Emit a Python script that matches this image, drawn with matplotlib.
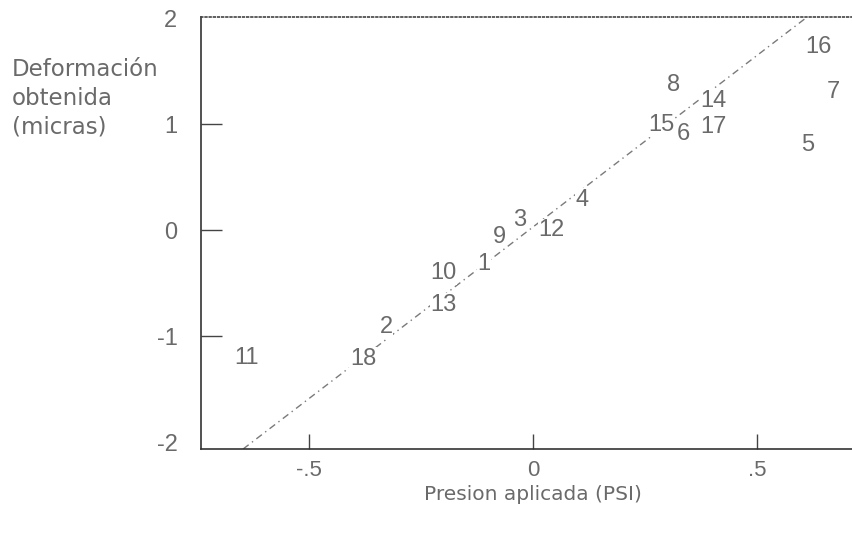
import matplotlib
matplotlib.use("Agg")
import matplotlib.pyplot as plt

# Data (Presion aplicada vs Deformación obtenida)
point_ids = ["11", "18", "2", "13", "10", "1", "9", "3", "12", "4",
             "15", "6", "8", "14", "17", "16", "7", "5"]
presion = [-0.64, -0.379, -0.328, -0.20, -0.20, -0.109, -0.074, -0.031, 0.042, 0.109,
           0.286, 0.335, 0.3125, 0.402, 0.402, 0.636, 0.67, 0.612]
deformacion = [-1.20, -1.21, -0.91, -0.70, -0.40, -0.32, -0.06, 0.10, 0.0, 0.29,
               0.99, 0.91, 1.37, 1.22, 0.97, 1.73, 1.30, 0.80]

# Fitted line end points
fit_x = [-0.647, 0.618]
fit_y = [-2.06, 2.03]

xticks = [-0.5, 0, 0.5]
xtick_labels = ["-.5", "0", ".5"]
yticks = [-2, -1, 0, 1, 2]
ytick_labels = ["-2", "-1", "0", "1", "2"]

TXT = "#6a6a6a"
NUMFONT = ["Liberation Sans Narrow", "Liberation Sans", "DejaVu Sans"]
LABFONT = ["DejaVu Sans"]

fig = plt.figure(figsize=(8.53, 5.33), dpi=100)
ax = fig.add_axes([201/853, 1 - 449/533, 1 - 201/853 + 0.01, (449 - 17)/533])
ax.set_xlim(-0.741, 0.714 + 0.01 * 853 / 448)
ax.set_ylim(-2.06, 2.01)

ax.plot(fit_x, fit_y, color="#7a7a7a", lw=1.0, linestyle=(0, (5, 3, 1, 3)), zorder=1)

for lab, x, y in zip(point_ids, presion, deformacion):
    ax.text(x, y, lab, ha="center", va="center", fontsize=17, color=TXT,
            family=NUMFONT, zorder=3,
            bbox=dict(facecolor="white", edgecolor="none", pad=0.5))

ax.spines["right"].set_visible(False)
ax.spines["top"].set_linestyle((0, (1, 1.5)))
ax.spines["top"].set_color("#444444")
ax.spines["top"].set_linewidth(1.2)
ax.spines["left"].set_color("#333333")
ax.spines["bottom"].set_color("#333333")
ax.spines["left"].set_linewidth(1.2)
ax.spines["bottom"].set_linewidth(1.2)

ax.set_xticks(xticks)
ax.set_xticklabels(xtick_labels, family=NUMFONT, fontsize=16, color=TXT)
ax.set_yticks(yticks)
ax.set_yticklabels(ytick_labels, family=NUMFONT, fontsize=17, color=TXT)
ax.tick_params(axis="x", direction="in", length=11, width=1, color="#444444", pad=8)
ax.tick_params(axis="y", direction="in", length=15, width=1, color="#444444", pad=17)
# hide tick marks at the ends of the y range
for t in ax.yaxis.get_major_ticks():
    if t.get_loc() in (-2, 2):
        t.tick1line.set_visible(False)

fig.text(12/853, 1 - 58/533, "Deformación\nobtenida\n(micras)", ha="left", va="top",
         fontsize=16.5, color=TXT, family=LABFONT, linespacing=1.33)
fig.text(533/853, 1 - 495/533, "Presion aplicada (PSI)", ha="center", va="center",
         fontsize=14.5, color=TXT, family=LABFONT)

fig.savefig("out.png", dpi=100, facecolor="white")
